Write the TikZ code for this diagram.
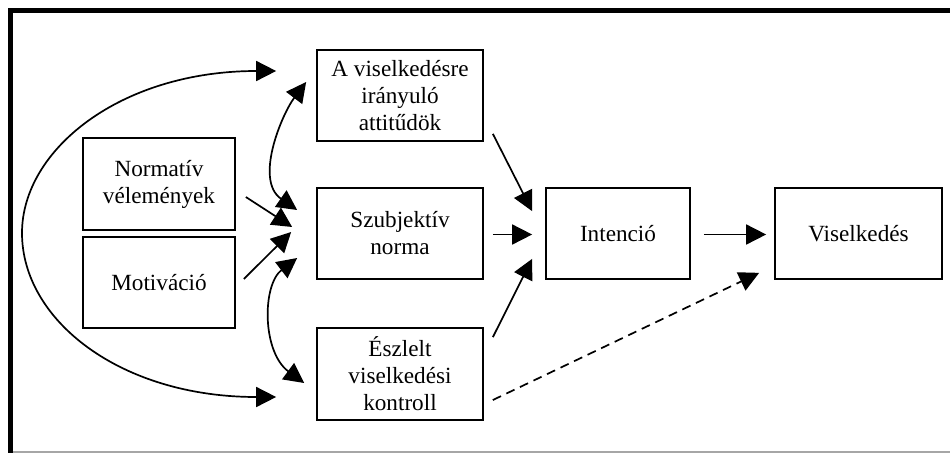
\documentclass[tikz,border=0pt]{standalone}
\usepackage{fontspec}
\setmainfont{Liberation Serif}
\usetikzlibrary{arrows.meta,calc}
\begin{document}
\begin{tikzpicture}[x=1pt,y=-1pt,
  box/.style={draw, line width=1.7pt, rectangle, align=center, inner sep=0pt,
    font=\fontsize{23.2}{27}\selectfont},
  conn/.style={line width=1.7pt, -{Triangle[length=20pt,width=20pt]}},
  dconn/.style={line width=1.7pt, {Triangle[length=20pt,width=20pt]}-{Triangle[length=20pt,width=20pt]}}
]
\useasboundingbox (0,0) rectangle (950,453);
\fill[white] (0,0) rectangle (950,453);
% frame
\draw[line width=5pt] (8,10.5) -- (950,10.5);
\draw[line width=5pt] (10.5,8) -- (10.5,453);
\draw[gray!70, line width=1.2pt] (13,452) -- (950,452);
% nodes
\node[box, minimum width=152pt, minimum height=92pt] (norm) at (159,184) {Normatív\\vélemények};
\node[box, minimum width=152pt, minimum height=91pt] (mot) at (159,282.5) {Motiváció};
\node[box, minimum width=166pt, minimum height=91pt] (att) at (400,95.5) {A viselkedésre\\irányuló\\attitűdök};
\node[box, minimum width=166pt, minimum height=91pt] (szub) at (400,233.5) {Szubjektív\\norma};
\node[box, minimum width=166pt, minimum height=92pt] (esz) at (400,374) {Észlelt\\viselkedési\\kontroll};
\node[box, minimum width=144pt, minimum height=91pt] (int) at (618,233.5) {Intenció};
\node[box, minimum width=167pt, minimum height=91pt] (vis) at (858.5,233.5) {Viselkedés};
% straight connectors
\draw[conn] ($(norm.east)+(10,13)$) -- ($(szub.west)+(-24,-6.5)$);
\draw[conn] ($(mot.east)+(8,-3.5)$) -- ($(szub.west)+(-25,-1.5)$);
\draw[conn] ($(att.south east)+(9,-8)$) -- ($(int.north west)+(-13,24)$);
\draw[conn] ($(szub.east)+(9,1)$) -- ($(int.west)+(-13,1)$);
\draw[conn] ($(esz.north east)+(9,10)$) -- ($(int.south west)+(-13,-21)$);
\draw[conn] ($(int.east)+(13,1)$) -- ($(vis.west)+(-8,1)$);
\draw[conn, dashed, dash pattern=on 9pt off 6pt] ($(esz.east)+(9,26)$) -- ($(vis.south west)+(-15,-7)$);
% curved connectors
\draw[dconn] ($(att.west)+(-10,-13.5)$) .. controls (282,114) and (254,180) .. ($(szub.west)+(-19,-23.5)$);
\draw[dconn] ($(szub.west)+(-19,24.5)$) .. controls (262,285) and (262,352) .. ($(esz.west)+(-12,9)$);
\draw[dconn] ($(att.west)+(-40,-24.5)$) .. controls (120,71) and (22,150) .. (22,233)
  .. controls (22,320) and (120,397) .. ($(esz.west)+(-40,23)$);
\end{tikzpicture}
\end{document}
